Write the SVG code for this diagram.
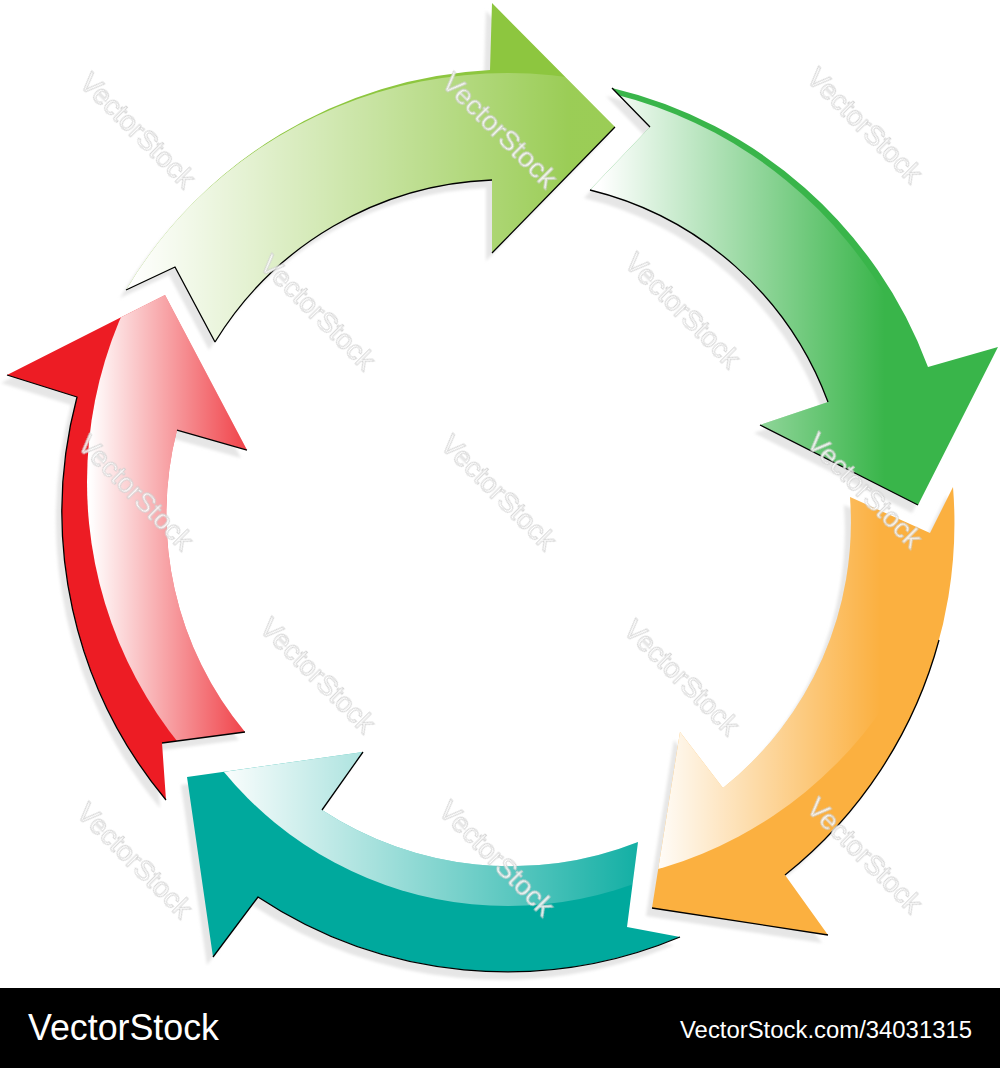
<svg xmlns="http://www.w3.org/2000/svg" width="1000" height="1068" viewBox="0 0 1000 1068">
<style>
.shadow{fill:#e6e6e6}
.edge{fill:none;stroke:#000;stroke-width:1.3;stroke-linejoin:round}
.wm{font-family:"Liberation Sans",Arial,sans-serif;font-size:28px;fill:#fff;stroke:#cfcfcf;stroke-width:0.9;text-anchor:middle}
.foot{font-family:"Liberation Sans",Arial,sans-serif;fill:#fff}
</style>
<defs>
<filter id="blur" x="-10%" y="-10%" width="120%" height="120%"><feGaussianBlur stdDeviation="1.5"/></filter>
<linearGradient id="gA" gradientUnits="userSpaceOnUse" x1="130" y1="0" x2="570" y2="0">
<stop offset="0" stop-color="#fff" stop-opacity="1"/><stop offset="1" stop-color="#fff" stop-opacity="0.12"/></linearGradient>
<linearGradient id="gB" gradientUnits="userSpaceOnUse" x1="600" y1="0" x2="885" y2="0">
<stop offset="0" stop-color="#fff" stop-opacity="1"/><stop offset="1" stop-color="#fff" stop-opacity="0"/></linearGradient>
<linearGradient id="gC" gradientUnits="userSpaceOnUse" x1="650" y1="0" x2="880" y2="0">
<stop offset="0" stop-color="#fff" stop-opacity="1"/><stop offset="1" stop-color="#fff" stop-opacity="0"/></linearGradient>
<linearGradient id="gD" gradientUnits="userSpaceOnUse" x1="215" y1="0" x2="650" y2="0">
<stop offset="0" stop-color="#fff" stop-opacity="1"/><stop offset="1" stop-color="#fff" stop-opacity="0.05"/></linearGradient>
<linearGradient id="gE" gradientUnits="userSpaceOnUse" x1="90" y1="0" x2="250" y2="0">
<stop offset="0" stop-color="#fff" stop-opacity="1"/><stop offset="1" stop-color="#fff" stop-opacity="0.15"/></linearGradient>
<path id="pA" d="M126,290 A450,450 0 0 1 490,70 L492,3 L615,127 L492,253 L492,180 A340,340 0 0 0 215,342 L175,267 Z"/>
<path id="pB" d="M612,88 A447,447 0 0 1 928,367 L998,347 L918,505 L760,425 L828,402 A340,340 0 0 0 590,190 L650,127 Z"/>
<path id="pC" d="M953,487 A450,450 0 0 1 785,875 L828,935 L652,908 L680,732 L723,788 A340,340 0 0 0 850,497 L930,533 Z"/>
<path id="pD" d="M680,937 A450,450 0 0 1 258,897 L213,957 L187,777 L363,752 L322,810 A345,345 0 0 0 638,842 L627,927 Z"/>
<path id="pE" d="M166,800 A450,450 0 0 1 77,397 L7,375 L165,295 L247,450 L177,430 A340,340 0 0 0 245,732 L162,743 Z"/>
<clipPath id="cA"><circle cx="508" cy="520" r="447"/></clipPath>
<clipPath id="cB"><circle cx="508" cy="520" r="439"/></clipPath>
<clipPath id="cC"><circle cx="545" cy="474" r="411"/></clipPath>
<clipPath id="cD"><circle cx="508" cy="538" r="368"/></clipPath>
<clipPath id="cE"><circle cx="505" cy="482" r="418"/></clipPath>
</defs>
<rect width="1000" height="1068" fill="#fff"/>
<g id="shadows" filter="url(#blur)" transform="translate(-6,8)">
<use href="#pA" class="shadow"/><use href="#pB" class="shadow"/><use href="#pC" class="shadow"/><use href="#pD" class="shadow"/><use href="#pE" class="shadow"/>
</g>
<g id="arrow-green-light">
<use href="#pA" fill="#8DC63F"/>
<use href="#pA" fill="url(#gA)" clip-path="url(#cA)"/>
<path class="edge" d="M126,290 L175,267 L215,342 M492,180 A340,340 0 0 0 215,342 M615,127 L492,253"/>
</g>
<g id="arrow-green">
<use href="#pB" fill="#39B54A"/>
<use href="#pB" fill="url(#gB)" clip-path="url(#cB)"/>
<path class="edge" d="M612,88 L650,127 M828,402 A340,340 0 0 0 590,190 M760,425 L918,505"/>
</g>
<g id="arrow-orange">
<use href="#pC" fill="#FBB040"/>
<use href="#pC" fill="url(#gC)" clip-path="url(#cC)"/>
<path class="edge" d="M939,640 A450,450 0 0 1 785,875 M652,908 L828,935"/>
</g>
<g id="arrow-teal">
<use href="#pD" fill="#00A99D"/>
<use href="#pD" fill="url(#gD)" clip-path="url(#cD)"/>
<path class="edge" d="M680,937 A450,450 0 0 1 258,897 L213,957 M363,752 L322,810"/>
</g>
<g id="arrow-red">
<use href="#pE" fill="#ED1C24"/>
<use href="#pE" fill="url(#gE)" clip-path="url(#cE)"/>
<path class="edge" d="M166,800 A450,450 0 0 1 77,397 L7,375 M247,450 L177,430 M245,732 L162,743"/>
</g>
<g id="watermarks" opacity="0.9">
<text class="wm" transform="translate(138,130) rotate(45)" y="10">VectorStock</text>
<text class="wm" transform="translate(500,130) rotate(45)" y="10">VectorStock</text>
<text class="wm" transform="translate(865,125) rotate(45)" y="10">VectorStock</text>
<text class="wm" transform="translate(318,312) rotate(45)" y="10">VectorStock</text>
<text class="wm" transform="translate(683,310) rotate(45)" y="10">VectorStock</text>
<text class="wm" transform="translate(136,492) rotate(45)" y="10">VectorStock</text>
<text class="wm" transform="translate(499,492) rotate(45)" y="10">VectorStock</text>
<text class="wm" transform="translate(865,490) rotate(45)" y="10">VectorStock</text>
<text class="wm" transform="translate(318,675) rotate(45)" y="10">VectorStock</text>
<text class="wm" transform="translate(682,677) rotate(45)" y="10">VectorStock</text>
<text class="wm" transform="translate(135,860) rotate(45)" y="10">VectorStock</text>
<text class="wm" transform="translate(497,858) rotate(45)" y="10">VectorStock</text>
<text class="wm" transform="translate(865,855) rotate(45)" y="10">VectorStock</text>
</g>
<g id="footer">
<rect x="0" y="988" width="1000" height="80" fill="#000"/>
<text class="foot" x="28" y="1040" font-size="37" textLength="191" lengthAdjust="spacingAndGlyphs">VectorStock</text>
<text class="foot" x="680" y="1038" font-size="23" textLength="292" lengthAdjust="spacingAndGlyphs">VectorStock.com/34031315</text>
</g>
</svg>
